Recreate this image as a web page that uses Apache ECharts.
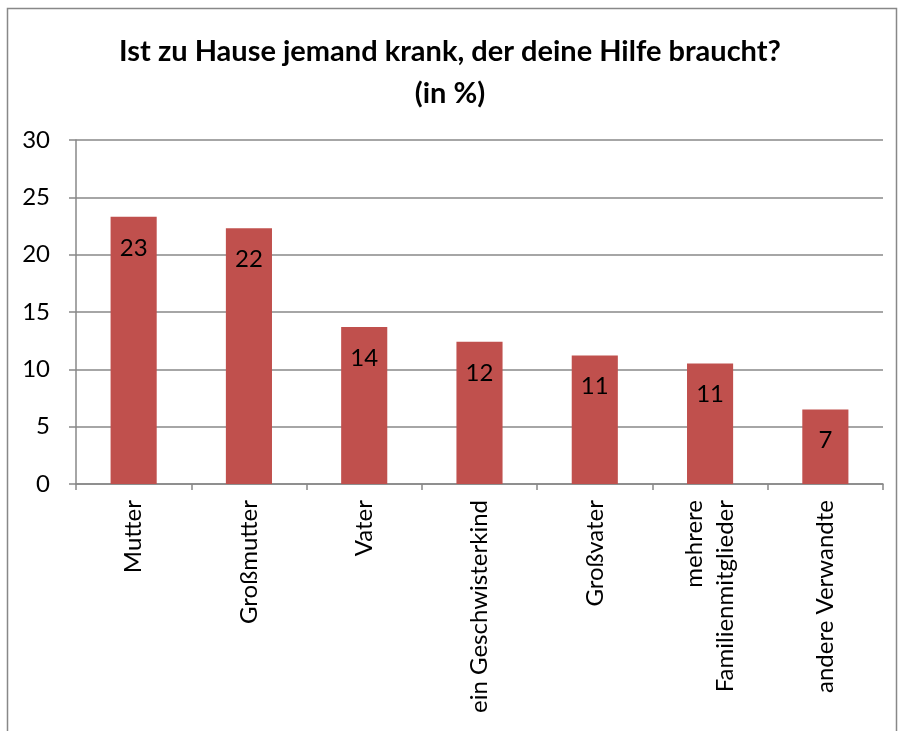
<!DOCTYPE html>
<html>
<head>
<meta charset="utf-8">
<script src="https://cdn.jsdelivr.net/npm/echarts@6/dist/echarts.min.js"></script>
<style>
  html, body { margin: 0; padding: 0; background: #fff; }
</style>
</head>
<body>
<div id="chart" style="width: 900px; height: 731px"></div>
<script>
const categories = ['Mutter', 'Großmutter', 'Vater', 'ein Geschwisterkind', 'Großvater', 'mehrere\nFamilienmitglieder', 'andere Verwandte'];
const values = [23.3, 22.3, 13.7, 12.4, 11.2, 10.5, 6.5];
const yTicks = { min: 0, max: 30, interval: 5 };

const chart = echarts.init(document.getElementById('chart'));
const font = 'Lato, "Open Sans", sans-serif';

const option = {
  animation: false,
  textStyle: { fontFamily: font },
  graphic: [
    {
      type: 'rect',
      shape: { x: 7.5, y: 8.5, width: 889, height: 760 },
      style: { fill: 'none', stroke: '#888', lineWidth: 1.5 },
      silent: true
    }
  ],
  title: {
    text: 'Ist zu Hause jemand krank, der deine Hilfe braucht?\n(in %)',
    left: 'center',
    top: 26,
    textStyle: {
      fontFamily: font,
      fontSize: 29,
      fontWeight: 'bold',
      color: '#000',
      lineHeight: 42
    }
  },
  grid: {
    left: 76,
    right: 17,
    top: 140,
    bottom: 247
  },
  xAxis: {
    type: 'category',
    data: categories,
    axisLine: { lineStyle: { color: '#888', width: 1.5 } },
    axisTick: { show: true, length: 6, alignWithLabel: false, lineStyle: { color: '#888', width: 1.5 } },
    axisLabel: {
      rotate: 90,
      interval: 0,
      margin: 16,
      fontSize: 24,
      color: '#000',
      lineHeight: 31,
      align: 'right'
    }
  },
  yAxis: {
    type: 'value',
    min: yTicks.min,
    max: yTicks.max,
    interval: yTicks.interval,
    axisLine: { show: true, lineStyle: { color: '#888', width: 1.5 } },
    axisTick: { show: true, length: 7, lineStyle: { color: '#888', width: 1.5 } },
    axisLabel: { fontSize: 24, color: '#000', margin: 26 },
    splitLine: { lineStyle: { color: '#888', width: 1.5 } }
  },
  series: [
    {
      type: 'bar',
      data: values,
      barWidth: '40%',
      itemStyle: { color: '#C0504D' },
      label: {
        show: true,
        position: 'insideTop',
        distance: 19,
        fontSize: 24,
        color: '#000',
        formatter: function (p) {
          return Math.round(p.value);
        }
      }
    }
  ]
};
chart.setOption(option);
</script>
</body>
</html>
